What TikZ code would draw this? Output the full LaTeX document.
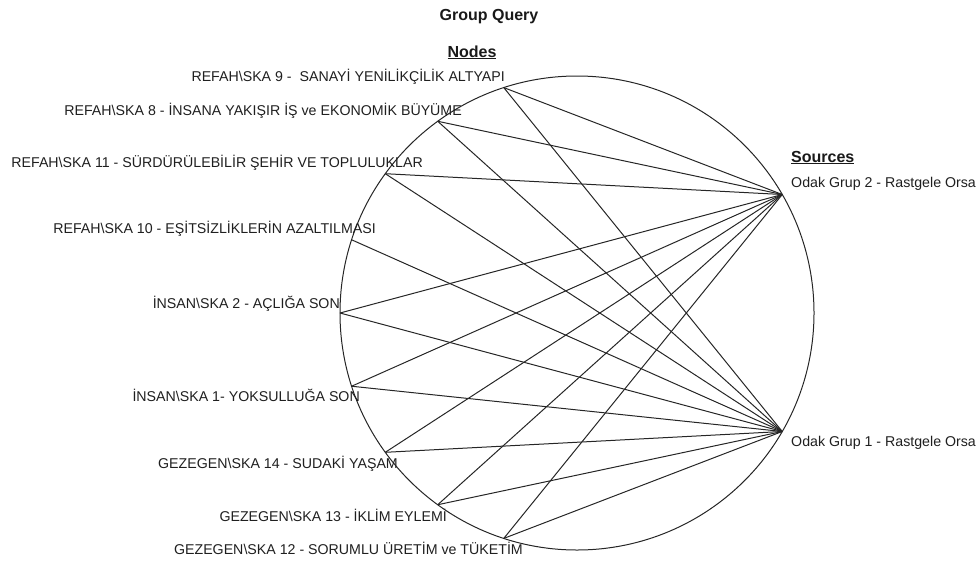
\documentclass[tikz,border=0pt]{standalone}
\usepackage{fontspec}
\setmainfont{Liberation Sans}
\usepackage{tikz}

\begin{document}
\begin{tikzpicture}[x=1pt,y=-1pt,
  lbl/.style={font=\fontsize{14.2}{16}\selectfont, inner sep=0pt, text=black!88},
  heading/.style={font=\fontsize{16}{18}\selectfont\bfseries, inner sep=0pt, text=black!90},
  link/.style={black!85, line width=1pt}]

\useasboundingbox (0,0) rectangle (979,562);

\node (ring) at (577,313) [circle, draw, black!85, line width=1pt, minimum size=474pt, inner sep=0pt, outer sep=0pt] {};

% points on the ring
\coordinate (ska9) at (ring.108);
\coordinate (ska8) at (ring.126);
\coordinate (ska11) at (ring.144);
\coordinate (ska10) at (ring.162);
\coordinate (ska2) at (ring.180);
\coordinate (ska1) at (ring.198);
\coordinate (ska14) at (ring.216);
\coordinate (ska13) at (ring.234);
\coordinate (ska12) at (ring.252);
\coordinate (grup2) at (ring.30);
\coordinate (grup1) at (ring.-30);

\node [heading, anchor=base] (title) at (489,20) {Group Query};
\node [heading, anchor=base] (nodeshead) at (472,57) {\underline{Nodes}};
\node [heading, anchor=base west] (srchead) at (791,162) {\underline{Sources}};

\node [lbl, anchor=base east] (t9) at (505,81) {REFAH\textbackslash SKA 9 -~ SANAYİ YENİLİKÇİLİK ALTYAPI};
\node [lbl, anchor=base east] (t8) at (462,115) {REFAH\textbackslash SKA 8 - İNSANA YAKIŞIR İŞ ve EKONOMİK BÜYÜME};
\node [lbl, anchor=base east] (t11) at (423,167) {REFAH\textbackslash SKA 11 - SÜRDÜRÜLEBİLİR ŞEHİR VE TOPLULUKLAR};
\node [lbl, anchor=base east] (t10) at (376,233) {REFAH\textbackslash SKA 10 - EŞİTSİZLİKLERİN AZALTILMASI};
\node [lbl, anchor=base east] (t2) at (340,308) {İNSAN\textbackslash SKA 2 - AÇLIĞA SON};
\node [lbl, anchor=base east] (t1) at (360,401) {İNSAN\textbackslash SKA 1- YOKSULLUĞA SON};
\node [lbl, anchor=base east] (t14) at (398,468) {GEZEGEN\textbackslash SKA 14 - SUDAKİ YAŞAM};
\node [lbl, anchor=base east] (t13) at (447,521) {GEZEGEN\textbackslash SKA 13 - İKLİM EYLEMİ};
\node [lbl, anchor=base east] (t12) at (523,554) {GEZEGEN\textbackslash SKA 12 - SORUMLU ÜRETİM ve TÜKETİM};

\node [lbl, anchor=base west] (o2) at (791,187) {Odak Grup 2 - Rastgele Orsa};
\node [lbl, anchor=base west] (o1) at (791,446) {Odak Grup 1 - Rastgele Orsa};

% links to Odak Grup 2
\draw [link] (ska9) -- (grup2);
\draw [link] (ska8) -- (grup2);
\draw [link] (ska11) -- (grup2);
\draw [link] (ska2) -- (grup2);
\draw [link] (ska1) -- (grup2);
\draw [link] (ska14) -- (grup2);
\draw [link] (ska13) -- (grup2);
\draw [link] (ska12) -- (grup2);

% links to Odak Grup 1
\draw [link] (ska9) -- (grup1);
\draw [link] (ska8) -- (grup1);
\draw [link] (ska11) -- (grup1);
\draw [link] (ska10) -- (grup1);
\draw [link] (ska2) -- (grup1);
\draw [link] (ska1) -- (grup1);
\draw [link] (ska14) -- (grup1);
\draw [link] (ska13) -- (grup1);
\draw [link] (ska12) -- (grup1);

\end{tikzpicture}
\end{document}
